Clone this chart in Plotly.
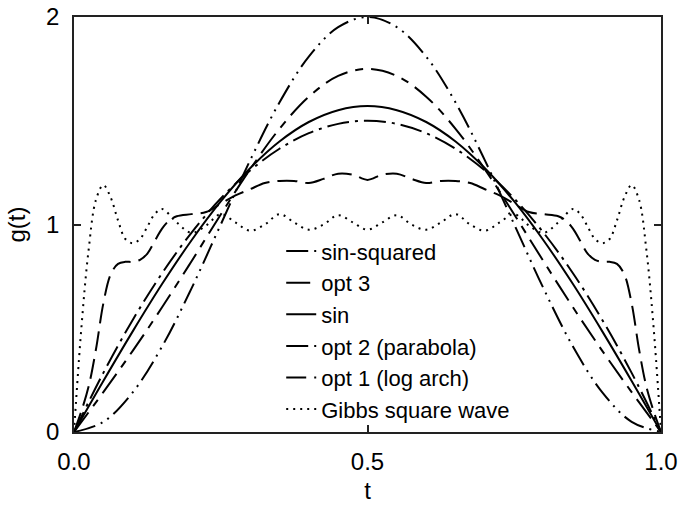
import plotly.graph_objects as go

# ---------------- data ----------------
t_smooth = [0, 0.05, 0.1, 0.15, 0.2, 0.25, 0.3, 0.35, 0.4, 0.45, 0.5,
            0.55, 0.6, 0.65, 0.7, 0.75, 0.8, 0.85, 0.9, 0.95, 1.0]

sin_squared = [0, 0.049, 0.191, 0.412, 0.691, 1.0, 1.309, 1.588, 1.809, 1.951, 2.0,
               1.951, 1.809, 1.588, 1.309, 1.0, 0.691, 0.412, 0.191, 0.049, 0]

opt3 = [0, 0.192, 0.391, 0.601, 0.822, 1.048, 1.266, 1.461, 1.616, 1.716, 1.75,
        1.716, 1.616, 1.461, 1.266, 1.048, 0.822, 0.601, 0.391, 0.192, 0]

sin_vals = [0, 0.246, 0.485, 0.713, 0.923, 1.111, 1.271, 1.400, 1.494, 1.551, 1.571,
            1.551, 1.494, 1.400, 1.271, 1.111, 0.923, 0.713, 0.485, 0.246, 0]

opt2_parabola = [0, 0.285, 0.54, 0.765, 0.96, 1.125, 1.26, 1.365, 1.44, 1.485, 1.5,
                 1.485, 1.44, 1.365, 1.26, 1.125, 0.96, 0.765, 0.54, 0.285, 0]

t_opt1 = [0, 0.0125, 0.025, 0.0375, 0.05, 0.0625, 0.075, 0.0875, 0.1, 0.1125, 0.125,
          0.1375, 0.15, 0.1625, 0.175, 0.2, 0.225, 0.25, 0.275, 0.3, 0.325, 0.35,
          0.375, 0.4, 0.425, 0.45, 0.475, 0.5,
          0.525, 0.55, 0.575, 0.6, 0.625, 0.65, 0.675, 0.7, 0.725, 0.75, 0.775, 0.8,
          0.825, 0.8375, 0.85, 0.8625, 0.875, 0.8875, 0.9, 0.9125, 0.925, 0.9375,
          0.95, 0.9625, 0.975, 0.9875, 1.0]

opt1_log_arch = [0, 0.10, 0.22, 0.40, 0.62, 0.76, 0.81, 0.82, 0.82, 0.83, 0.86,
                 0.92, 0.98, 1.02, 1.04, 1.05, 1.06, 1.10, 1.14, 1.17, 1.20, 1.21,
                 1.21, 1.20, 1.22, 1.245, 1.24, 1.215,
                 1.24, 1.245, 1.22, 1.20, 1.21, 1.21, 1.20, 1.17, 1.14, 1.10, 1.06, 1.05,
                 1.04, 1.02, 0.98, 0.92, 0.86, 0.83, 0.82, 0.82, 0.81, 0.76,
                 0.62, 0.40, 0.22, 0.10, 0]

t_gibbs = [0, 0.0125, 0.025, 0.0375, 0.05, 0.0625, 0.075, 0.0875, 0.1, 0.1125, 0.125,
           0.1375, 0.15, 0.175, 0.2, 0.225, 0.25, 0.275, 0.3, 0.325, 0.35, 0.375,
           0.4, 0.425, 0.45, 0.475, 0.5,
           0.525, 0.55, 0.575, 0.6, 0.625, 0.65, 0.675, 0.7, 0.725, 0.75, 0.775,
           0.8, 0.825, 0.85, 0.8625, 0.875, 0.8875, 0.9, 0.9125, 0.925, 0.9375,
           0.95, 0.9625, 0.975, 0.9875, 1.0]

gibbs_square = [0, 0.50, 0.88, 1.12, 1.19, 1.13, 1.02, 0.93, 0.91, 0.93, 0.99,
                1.05, 1.075, 1.01, 0.96, 0.995, 1.05, 1.01, 0.97, 1.0, 1.05, 1.01,
                0.975, 1.0, 1.045, 1.01, 0.975,
                1.01, 1.045, 1.0, 0.975, 1.01, 1.05, 1.0, 0.97, 1.01, 1.05, 0.995,
                0.96, 1.01, 1.075, 1.05, 0.99, 0.93, 0.91, 0.93, 1.02, 1.13,
                1.19, 1.12, 0.88, 0.50, 0]

x_tickvals = [0, 0.5, 1.0]
x_ticktext = ["0.0", "0.5", "1.0"]
y_tickvals = [0, 1, 2]
y_ticktext = ["0", "1", "2"]

# ---------------- figure ----------------
FONT = "Liberation Sans, Arial, Helvetica, sans-serif"
fig = go.Figure()

series = [
    ("sin-squared", t_smooth, sin_squared, "22px,6px,2px,6px,2px,6px"),
    ("opt 3", t_smooth, opt3, "24px,8px,8px,8px"),
    ("sin", t_smooth, sin_vals, "solid"),
    ("opt 2 (parabola)", t_smooth, opt2_parabola, "22px,6px,3px,6px"),
    ("opt 1 (log arch)", t_opt1, opt1_log_arch, "20px,8px"),
    ("Gibbs square wave", t_gibbs, gibbs_square, "2px,5px"),
]

for name, xs, ys, dash in series:
    fig.add_trace(go.Scatter(
        x=xs, y=ys, name=name, mode="lines",
        line=dict(color="black", width=2, dash=dash, shape="spline", smoothing=1.0),
    ))

axis_common = dict(
    showline=True, linecolor="#222", linewidth=1.5, mirror="ticks",
    ticks="inside", ticklen=7, tickwidth=1.5, tickcolor="#222",
    showgrid=False, zeroline=False, automargin=False,
    tickfont=dict(family=FONT, size=24, color="black"),
)

fig.update_xaxes(range=[0, 1], tickvals=x_tickvals, ticktext=x_ticktext,
                 ticklabelstandoff=7,
                 title=dict(text="t", font=dict(family=FONT, size=24, color="black"), standoff=9),
                 **axis_common)
fig.update_yaxes(range=[0, 2], tickvals=y_tickvals, ticktext=y_ticktext,
                 ticklabelstandoff=8,
                 title=dict(text="g(t)", font=dict(family=FONT, size=24, color="black"), standoff=14),
                 **axis_common)

fig.update_layout(
    width=681, height=506,
    margin=dict(l=74, r=20, t=17, b=74, autoexpand=False),
    paper_bgcolor="white", plot_bgcolor="white",
    font=dict(family=FONT, color="black"),
    legend=dict(x=0.353, y=0.486, xanchor="left", yanchor="top",
                bgcolor="rgba(0,0,0,0)", font=dict(family=FONT, size=22, color="black"),
                tracegroupgap=0),
    showlegend=True,
)

fig.write_html("out.html",
               config={"displayModeBar": False},
               post_script="document.body.style.margin='0';document.body.style.overflow='hidden';")
